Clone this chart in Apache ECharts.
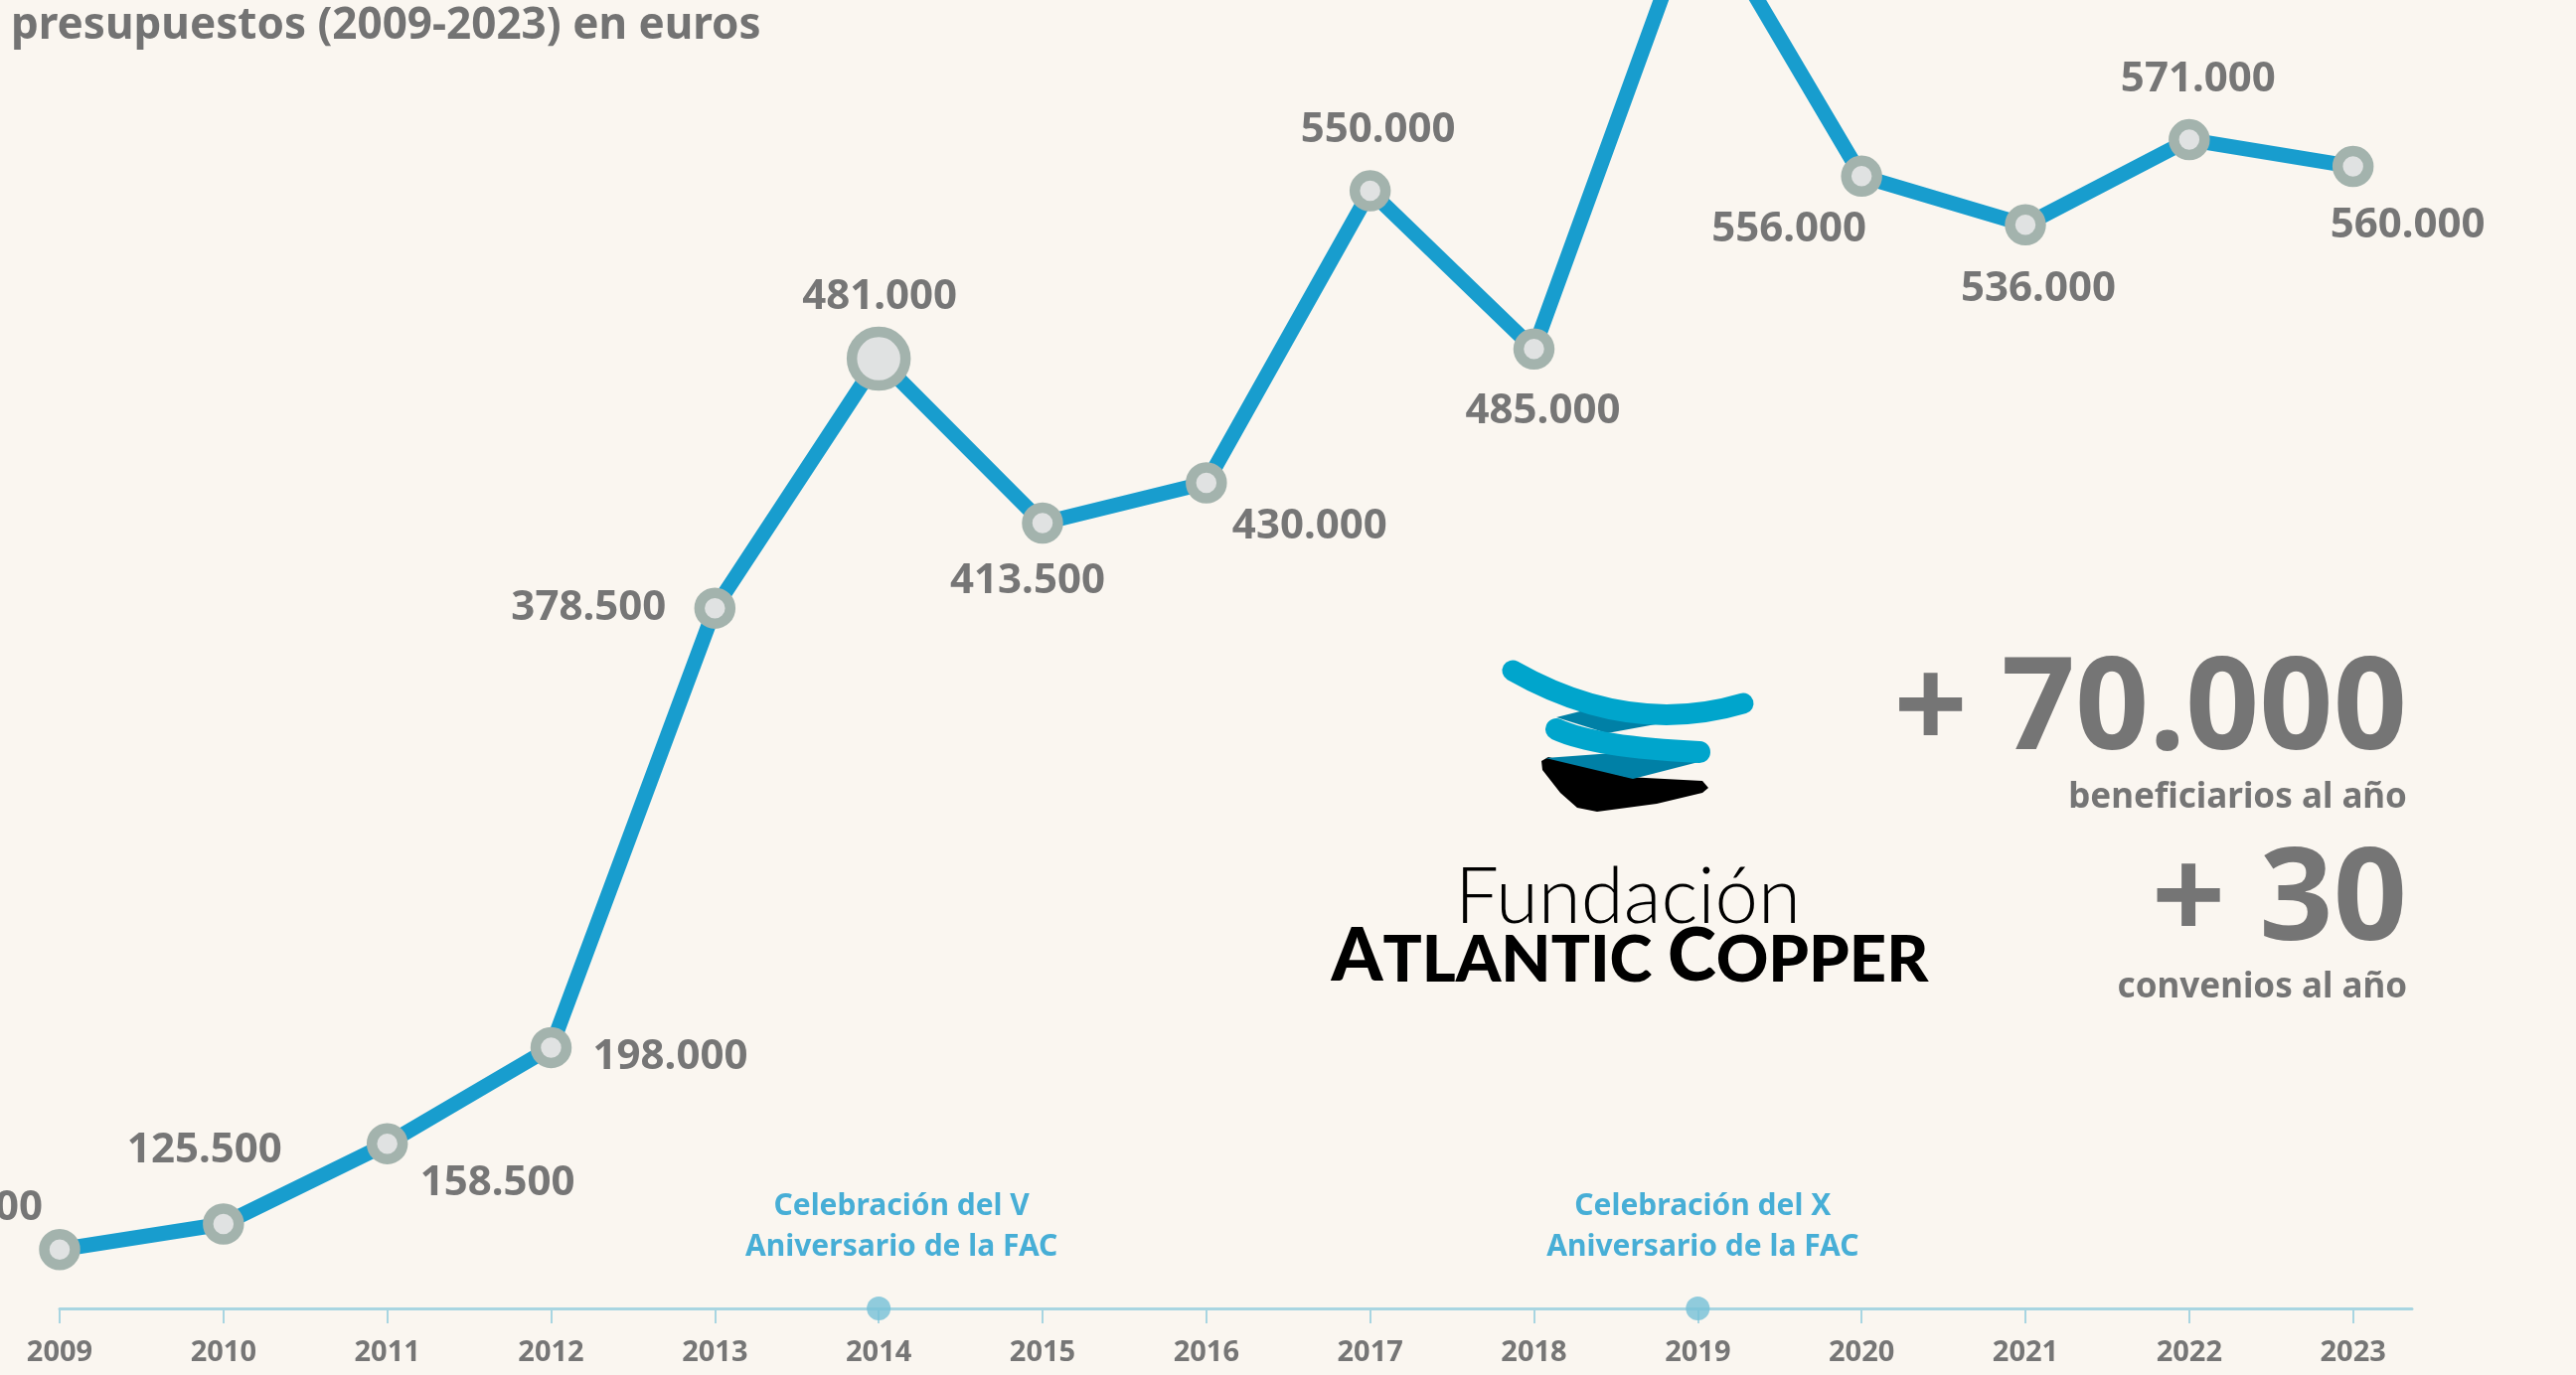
<!DOCTYPE html>
<html>
<head>
<meta charset="utf-8">
<script src="https://cdn.jsdelivr.net/npm/echarts@6/dist/echarts.min.js"></script>
<style>
  html, body { margin: 0; padding: 0; background: #faf6f0; }
  #budget-chart { width: 2592px; height: 1384px; }
</style>
</head>
<body>
<div id="budget-chart"></div>
<script>
// Presupuestos anuales de la Fundación Atlantic Copper (euros)
var years = [2009, 2010, 2011, 2012, 2013, 2014, 2015, 2016, 2017, 2018, 2019, 2020, 2021, 2022, 2023];
var budgets = [115000, 125500, 158500, 198000, 378500, 481000, 413500, 430000, 550000, 485000, 670000, 556000, 536000, 571000, 560000];
var highlightYear = 2014;

// hitos marcados sobre el eje
var milestoneYears = [2014, 2019];
var milestoneTexts = ['Celebración del V\nAniversario de la FAC', 'Celebración del X\nAniversario de la FAC'];

// cifras destacadas
var statValues = ['+ 70.000', '+ 30'];
var statCaptions = ['beneficiarios al año', 'convenios al año'];

// rango vertical visible (el 2019 queda fuera del recorte superior)
var axisFloor = 90800;
var axisCeil = 628400;

// desplazamiento de cada etiqueta respecto a su punto (px)
var labelOffsets = [
  [-95, -42], [-19, -74], [111, 40], [120, 10], [-127, 0],
  [1, -62], [-15, 59], [104, 44], [8, -61], [9, 63],
  [0, -60], [-73, 54], [13, 65], [9, -61], [55, 59]
];
var milestoneOffsets = [[23, -82], [5, -82]];

function fmt(v) {
  return String(v).replace(/\B(?=(\d{3})+(?!\d))/g, '.');
}

var chartDom = document.getElementById('budget-chart');
var myChart = echarts.init(chartDom, null, { width: 2592, height: 1384 });

var grey = '#767676';
var font = 'Noto Sans';

var lineData = years.map(function (y, i) {
  return {
    value: [y, budgets[i]],
    symbolSize: y === highlightYear ? 54 : 31,
    label: { offset: labelOffsets[i] }
  };
});

var milestoneData = milestoneYears.map(function (y, i) {
  return {
    value: [y, axisFloor],
    name: milestoneTexts[i],
    label: { offset: milestoneOffsets[i] }
  };
});

var option = {
  backgroundColor: '#faf6f0',
  animation: false,
  title: {
    text: 'presupuestos (2009-2023) en euros',
    left: 11,
    top: 4,
    padding: 0,
    textStyle: {
      fontFamily: font,
      fontSize: 44,
      lineHeight: 44,
      fontWeight: 'bold',
      color: '#737373'
    }
  },
  grid: {
    left: 60,
    right: 165,
    top: 0,
    bottom: 67,
    outerBoundsMode: 'none'
  },
  xAxis: {
    type: 'value',
    min: 2009,
    max: 2023.36,
    interval: 1,
    splitLine: { show: false },
    axisLine: { onZero: false, lineStyle: { color: '#a8d5e1', width: 3 } },
    axisTick: {
      customValues: years,
      length: 15,
      lineStyle: { color: '#a8d5e1', width: 2 }
    },
    axisLabel: {
      customValues: years,
      margin: 30,
      formatter: function (v) { return String(v); },
      fontFamily: font,
      fontSize: 29,
      fontWeight: 'bold',
      color: grey
    }
  },
  yAxis: {
    type: 'value',
    min: axisFloor,
    max: axisCeil,
    show: false,
    splitLine: { show: false }
  },
  series: [
    {
      name: 'Presupuesto',
      type: 'line',
      data: lineData,
      symbol: 'circle',
      lineStyle: { color: '#189dce', width: 15, join: 'round' },
      itemStyle: { color: '#e0e2e2', borderColor: '#a3b3ad', borderWidth: 10.5 },
      label: {
        show: true,
        position: 'inside',
        formatter: function (p) { return fmt(p.value[1]); },
        fontFamily: font,
        fontSize: 42,
        fontWeight: 'bold',
        color: grey
      },
      emphasis: { disabled: true },
      z: 3
    },
    {
      name: 'Hitos',
      type: 'scatter',
      data: milestoneData,
      symbolSize: 24,
      clip: false,
      itemStyle: { color: '#76c0d7' },
      label: {
        show: true,
        position: 'inside',
        formatter: function (p) { return p.name; },
        fontFamily: font,
        fontSize: 30,
        lineHeight: 41,
        fontWeight: 'bold',
        align: 'center',
        color: '#1a9ccf'
      },
      emphasis: { disabled: true },
      z: 4
    }
  ],
  graphic: [
    // cifras destacadas
    {
      type: 'text', x: 2422, y: 717,
      style: { text: statValues[0], align: 'right', verticalAlign: 'middle',
        fontFamily: font, fontSize: 130, fontWeight: 'bold', fill: '#757575' }
    },
    {
      type: 'text', x: 2422, y: 803,
      style: { text: statCaptions[0], align: 'right', verticalAlign: 'middle',
        fontFamily: font, fontSize: 35, fontWeight: 'bold', fill: '#757575' }
    },
    {
      type: 'text', x: 2422, y: 909,
      style: { text: statValues[1], align: 'right', verticalAlign: 'middle',
        fontFamily: font, fontSize: 130, fontWeight: 'bold', fill: '#757575' }
    },
    {
      type: 'text', x: 2422, y: 994,
      style: { text: statCaptions[1], align: 'right', verticalAlign: 'middle',
        fontFamily: font, fontSize: 35, fontWeight: 'bold', fill: '#757575' }
    },
    // logotipo
    {
      type: 'polygon',
      shape: { points: [[1566, 722], [1598, 714], [1677, 727], [1617, 738]] },
      style: { fill: '#0080a6' }
    },
    {
      type: 'polygon',
      smooth: 0.15,
      shape: {
        points: [[1551, 766], [1558, 762], [1637, 782], [1713, 786], [1719, 793],
          [1713, 798], [1667, 809], [1607, 817], [1587, 813], [1570, 798], [1552, 775]]
      },
      style: { fill: '#000000' }
    },
    {
      type: 'polygon',
      shape: { points: [[1555, 763], [1623, 758], [1713, 766], [1643, 784]] },
      style: { fill: '#0080a6' }
    },
    {
      type: 'bezierCurve',
      shape: { x1: 1566, y1: 734, cpx1: 1605, cpy1: 752, x2: 1710, y2: 757 },
      style: { stroke: '#00a5cc', lineWidth: 22, lineCap: 'round', fill: null }
    },
    {
      type: 'bezierCurve',
      shape: { x1: 1522, y1: 675, cpx1: 1640, cpy1: 742, x2: 1754, y2: 708 },
      style: { stroke: '#00a5cc', lineWidth: 21, lineCap: 'round', fill: null }
    },
    {
      type: 'text', x: 1638, y: 904,
      style: { text: 'Fundación', align: 'center', verticalAlign: 'middle',
        fontFamily: 'Lato', fontSize: 78, fontWeight: 300, fill: '#000000' }
    },
    {
      type: 'text', x: 1640, y: 1000,
      style: {
        text: '{b|A}{s|TLANTIC }{b|C}{s|OPPER}',
        align: 'center', verticalAlign: 'bottom',
        fill: '#000000',
        rich: {
          b: { fontFamily: 'Lato', fontSize: 74, fontWeight: 900, fill: '#000000', verticalAlign: 'bottom' },
          s: { fontFamily: 'Lato', fontSize: 65, fontWeight: 900, fill: '#000000', verticalAlign: 'bottom' }
        }
      }
    }
  ]
};

option && myChart.setOption(option);
</script>
</body>
</html>
